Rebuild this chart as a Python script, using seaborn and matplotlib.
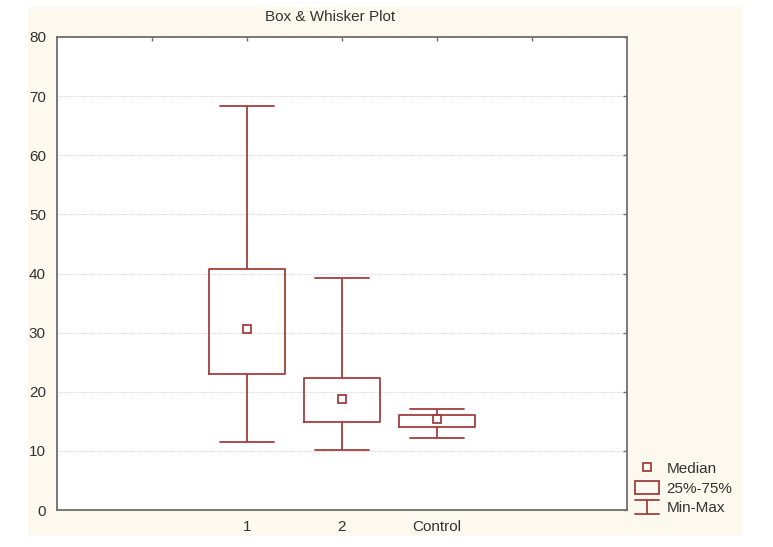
import pandas as pd
import seaborn as sns
import matplotlib.pyplot as plt
from matplotlib.patches import Rectangle, Patch
from matplotlib.lines import Line2D
from matplotlib.legend_handler import HandlerBase

groups = ["1", "2", "Control"]
mins = [11.5, 10.2, 12.2]
q1s = [23.0, 14.9, 14.0]
medians = [30.6, 18.8, 15.4]
q3s = [40.7, 22.3, 16.1]
maxs = [68.3, 39.2, 17.0]

# empty slots on both sides, like the original layout
order = [" ", "1", "2", "Control", "  "]

red = "#a23f3f"
frame = "#6e6e6e"

sns.set_style("white")
plt.rcParams["font.family"] = ["Liberation Sans", "DejaVu Sans"]

# five values per group -> boxplot with whis=(0, 100) gives min/q1/med/q3/max
rows = []
for i, g in enumerate(groups):
    for v in [mins[i], q1s[i], medians[i], q3s[i], maxs[i]]:
        rows.append({"group": g, "value": v})
df = pd.DataFrame(rows)
med_df = pd.DataFrame({"group": groups, "median": medians})

fig = plt.figure(figsize = (7.73, 5.47), dpi = 100)
fig.patch.set_facecolor("white")
fig.add_artist(Rectangle((28 / 773, 11 / 547), 715 / 773, 529 / 547,
                         transform = fig.transFigure, facecolor = "#fef9ee",
                         edgecolor = "none", zorder = -10))

ax = fig.add_axes([57 / 773, 37 / 547, 570 / 773, 473 / 547])
ax.set_facecolor("white")

sns.boxplot(data = df, x = "group", y = "value", order = order, whis = (0, 100),
            fill = False, color = red, linewidth = 1.3, width = 0.8,
            capwidths = 0.57, showfliers = False,
            medianprops = {"visible": False}, ax = ax)

sns.pointplot(data = med_df, x = "group", y = "median", order = order,
              linestyle = "none", marker = "s", color = red, errorbar = None,
              markersize = 5.5, markeredgewidth = 1.3, markerfacecolor = "none",
              ax = ax)

ax.set_xlim(-1, 5)
ax.set_ylim(0, 80)
ax.set_yticks(range(0, 81, 10))
ax.set_xticks(range(0, 5))
ax.set_xticklabels(order)
ax.set_xlabel("")
ax.set_ylabel("")

ax.set_axisbelow(True)
ax.yaxis.grid(True, linestyle = (0, (1, 1)), color = "#d6d6d6", linewidth = 0.8)
ax.xaxis.grid(False)

for s in ax.spines.values():
    s.set_visible(True)
    s.set_color(frame)
    s.set_linewidth(1.3)

ax.tick_params(direction = "in", length = 3, width = 1.0, color = frame,
               top = True, right = True, labelsize = 11, labelcolor = "#333333")
ax.tick_params(axis = "y", pad = 8)
ax.tick_params(axis = "x", pad = 7)

fig.text(330 / 773, 1 - 17 / 547, "Box & Whisker Plot", ha = "center", va = "center",
         fontsize = 11, color = "#333333")


class MinMaxHandler(HandlerBase):
    def create_artists(self, legend, orig_handle, xdescent, ydescent, width, height,
                       fontsize, trans):
        x0, x1 = -xdescent, -xdescent + width
        y0, y1 = -ydescent, -ydescent + height
        xm = (x0 + x1) / 2
        kw = dict(color = red, linewidth = 1.3, transform = trans)
        return [Line2D([x0, x1], [y1, y1], **kw),
                Line2D([xm, xm], [y0, y1], **kw),
                Line2D([x0, x1], [y0, y0], **kw)]


h_med = Line2D([], [], marker = "s", linestyle = "none", markersize = 5.5,
               markerfacecolor = "none", markeredgecolor = red, markeredgewidth = 1.3)
h_box = Patch(facecolor = "none", edgecolor = red, linewidth = 1.3)
h_mm = object()

fig.legend([h_med, h_box, h_mm], ["Median", "25%-75%", "Min-Max"],
           handler_map = {h_mm: MinMaxHandler()},
           loc = "upper left", bbox_to_anchor = (635 / 773, 1 - 461 / 547),
           frameon = False, fontsize = 11, borderpad = 0, borderaxespad = 0,
           handlelength = 1.55, handleheight = 0.95, handletextpad = 0.5,
           labelspacing = 0.32, labelcolor = "#333333")

fig.savefig("out.png", dpi = 100)
